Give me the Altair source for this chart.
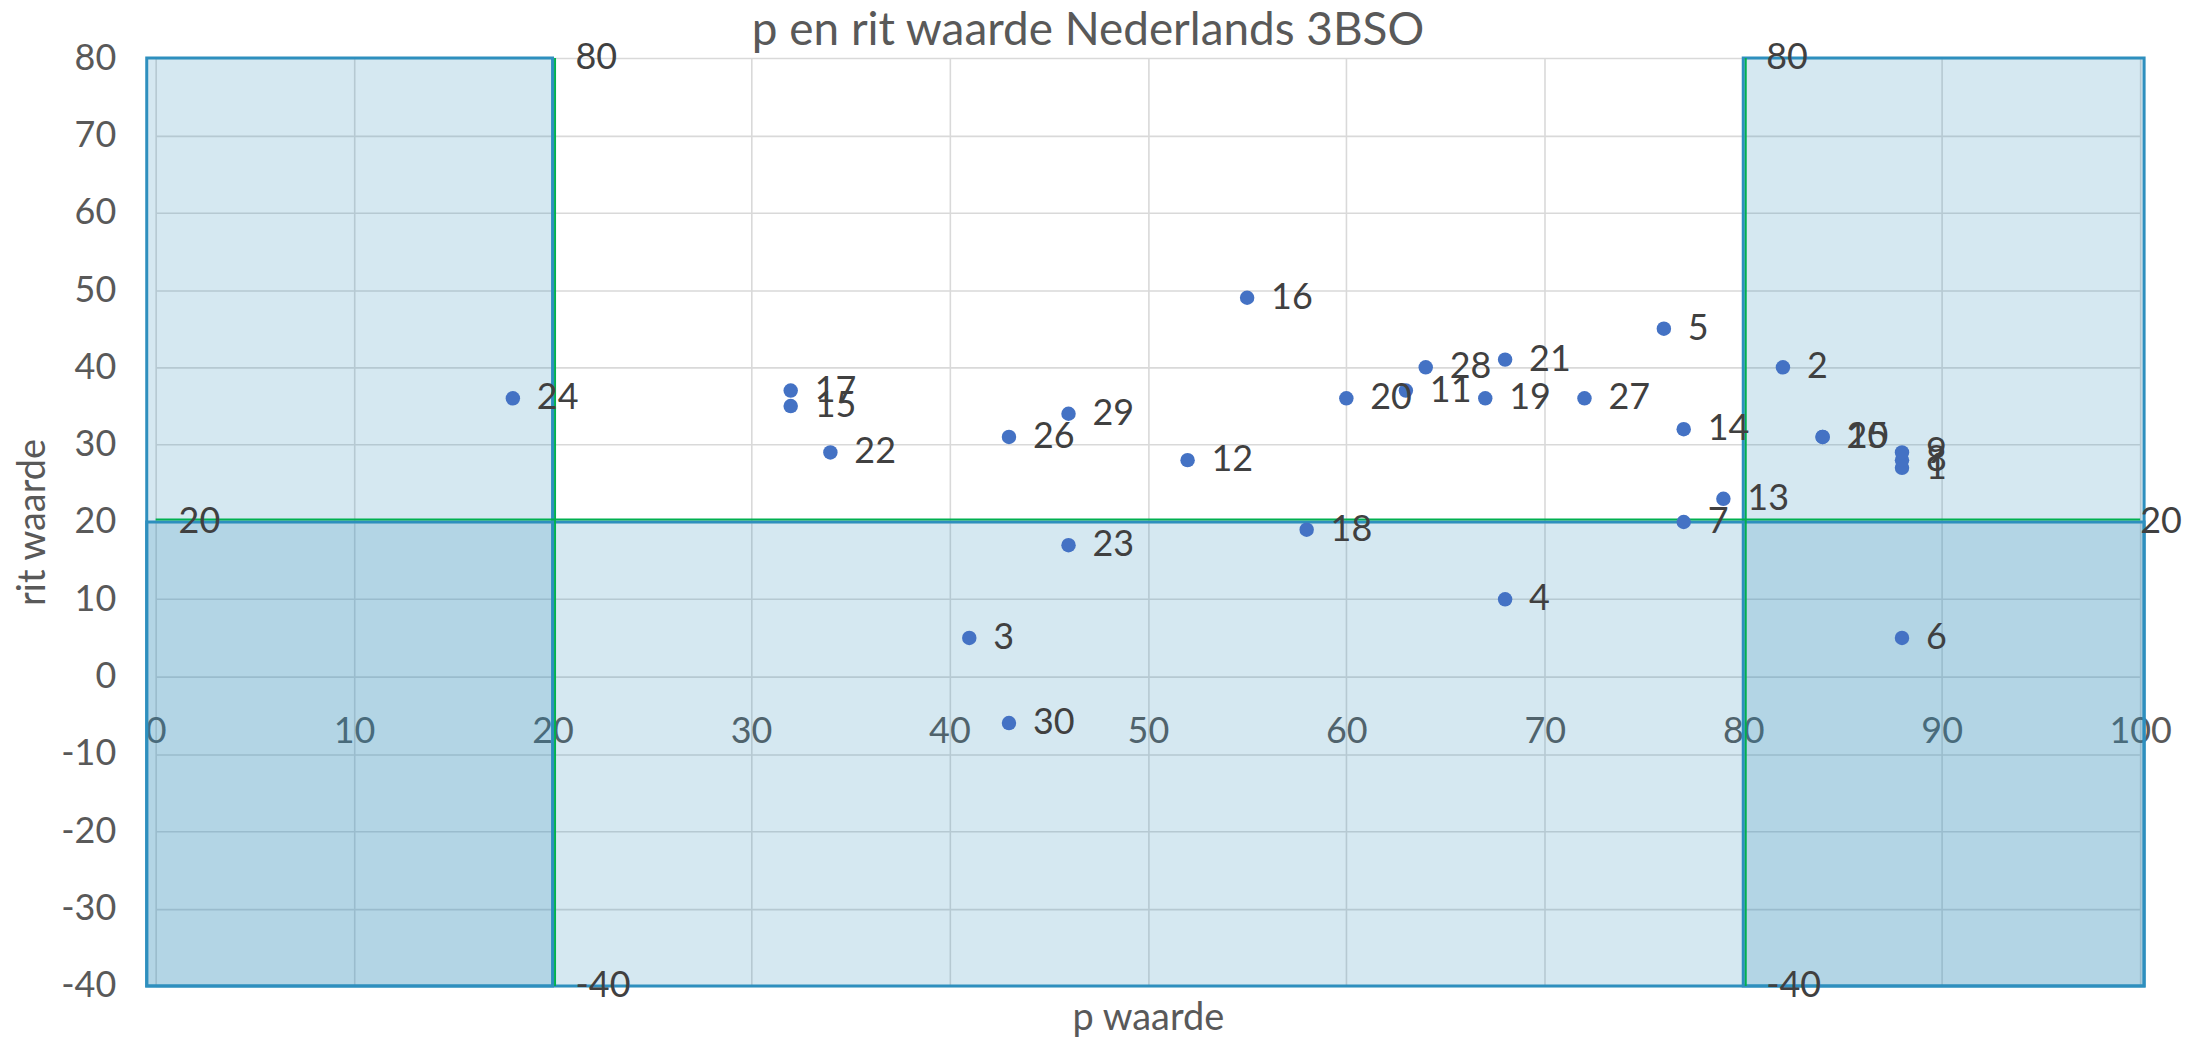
import altair as alt
import pandas as pd

# ---- data ----
item = [str(i) for i in range(1, 31)]
p_value = [88, 82, 41, 68, 76, 88, 77, 88, 88, 84,
           63, 52, 79, 77, 32, 55, 32, 58, 67, 60,
           68, 34, 46, 18, 84, 43, 72, 64, 46, 43]
rit_value = [27, 40, 5, 10, 45, 5, 20, 28, 29, 31,
             37, 28, 23, 32, 35, 49, 37, 19, 36, 36,
             41, 29, 17, 36, 31, 31, 36, 40, 34, -6]

# shaded zones
zone_x1 = [-0.45, 80, -0.45]
zone_x2 = [20, 100.2, 100.2]
zone_y1 = [-40, -40, -40]
zone_y2 = [80, 80, 20]

# boundary lines
vline_x = [20, 80]
vline_y1 = [-40, -40]
vline_y2 = [80, 80]
hline_y = [20]
hline_x1 = [0]
hline_x2 = [100]

# boundary line end labels
end_x = [20, 20, 80, 80, 0]
end_y = [80, -40, 80, -40, 20]
end_lab = ["80", "-40", "80", "-40", "20"]
edge_x = [100]
edge_y = [20]
edge_lab = ["20"]

x_ticks = list(range(0, 101, 10))
y_ticks = list(range(-40, 81, 10))

FONT = "Lato"
BLUE = "#2E8FBE"
GREEN = "#00B050"

pts = pd.DataFrame({"item": item, "p": p_value, "rit": rit_value})
zones = pd.DataFrame({"x1": zone_x1, "x2": zone_x2, "y1": zone_y1, "y2": zone_y2})
vlines = pd.DataFrame({"x": vline_x, "y1": vline_y1, "y2": vline_y2})
hlines = pd.DataFrame({"y": hline_y, "x1": hline_x1, "x2": hline_x2})
ends = pd.DataFrame({"x": end_x, "y": end_y, "lab": end_lab})
edges = pd.DataFrame({"x": edge_x, "y": edge_y, "lab": edge_lab})

xs = alt.Scale(domain=[0, 100], nice=False, zero=False)
ys = alt.Scale(domain=[-40, 80], nice=False, zero=False)

x_axis = alt.Axis(values=x_ticks, grid=True, gridColor="#D9D9D9", gridWidth=1.6,
                  domain=False, ticks=False, tickSize=0, offset=-310,
                  labelFlush=False, labelOverlap=False, labelExpr="datum.value + ''",
                  labelPadding=38, labelFont=FONT, labelFontSize=36, labelColor="#595959",
                  title="p waarde", titleFont=FONT, titleFontSize=38, titleColor="#595959",
                  titleFontWeight="normal", titleY=354, titleBaseline="alphabetic")
y_axis = alt.Axis(values=y_ticks, grid=True, gridColor="#D9D9D9", gridWidth=1.6,
                  domain=False, ticks=False, tickSize=0,
                  labelFlush=False, labelOverlap=False, labelExpr="datum.value + ''",
                  labelPadding=40, labelFont=FONT, labelFontSize=36, labelColor="#595959",
                  title="rit waarde", titleFont=FONT, titleFontSize=38, titleColor="#595959",
                  titleFontWeight="normal", titleX=-122, titleBaseline="middle")


def X(field):
    return alt.X(field, scale=xs, axis=x_axis)


def Y(field):
    return alt.Y(field, scale=ys, axis=y_axis)


zone_layer = alt.Chart(zones).mark_rect(
    fill="#2D8CB9", fillOpacity=0.2, stroke=BLUE, strokeWidth=3, strokeOpacity=1
).encode(x=X("x1:Q"), x2="x2:Q", y=Y("y1:Q"), y2="y2:Q")

vline_layer = alt.Chart(vlines).mark_rule(color=GREEN, strokeWidth=2, xOffset=2.5).encode(
    x=X("x:Q"), y=Y("y1:Q"), y2="y2:Q")

hline_layer = alt.Chart(hlines).mark_rule(color=GREEN, strokeWidth=2, yOffset=-2.5).encode(
    y=Y("y:Q"), x=X("x1:Q"), x2="x2:Q")

point_layer = alt.Chart(pts).mark_point(filled=True, size=210, color="#4472C4", opacity=1).encode(
    x=X("p:Q"), y=Y("rit:Q"))

label_style = dict(align="left", baseline="middle", font=FONT, fontSize=36, color="#404040")

label_layer = alt.Chart(pts).mark_text(dx=24, **label_style).encode(
    x=X("p:Q"), y=Y("rit:Q"), text="item:N")

end_layer = alt.Chart(ends).mark_text(dx=23, **label_style).encode(
    x=X("x:Q"), y=Y("y:Q"), text="lab:N")

edge_layer = alt.Chart(edges).mark_text(dx=0, **label_style).encode(
    x=X("x:Q"), y=Y("y:Q"), text="lab:N")

chart = alt.layer(
    zone_layer, vline_layer, hline_layer, point_layer, label_layer, end_layer, edge_layer
).properties(
    width=1989,
    height=930,
    title=alt.TitleParams("p en rit waarde Nederlands 3BSO", font=FONT, fontSize=46,
                          color="#595959", fontWeight="normal", anchor="middle",
                          frame="group", dx=-60, offset=-15),
    autosize=alt.AutoSizeParams(type="none"),
    padding={"left": 148, "top": 49, "right": 60, "bottom": 50},
    background="white",
).configure_view(stroke=None)

chart.save("out.html", embed_options={"renderer": "svg", "actions": False})
